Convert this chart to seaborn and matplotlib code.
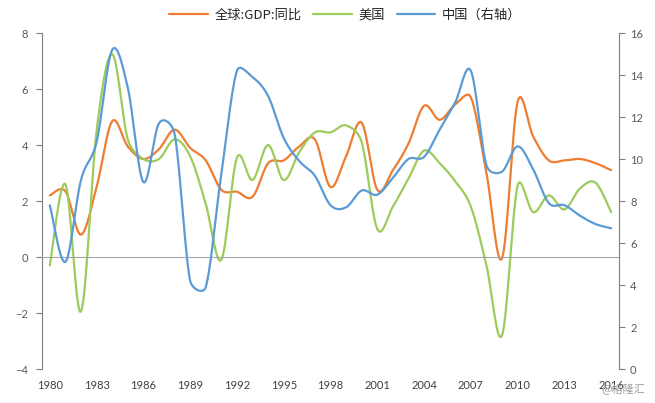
import numpy as np
import pandas as pd
import seaborn as sns
import matplotlib.pyplot as plt

years = list(range(1980, 2017))
world = [2.2, 2.35, 0.8, 2.5, 4.85, 3.95, 3.5, 3.85, 4.55, 3.9, 3.45, 2.4, 2.33, 2.15, 3.35, 3.45,
         3.95, 4.2, 2.5, 3.6, 4.8, 2.4, 3.1, 4.05, 5.4, 4.9, 5.45, 5.7, 3.0, -0.05, 5.55, 4.3,
         3.45, 3.45, 3.5, 3.35, 3.1]
us = [-0.3, 2.6, -1.95, 4.5, 7.25, 4.2, 3.5, 3.5, 4.2, 3.6, 1.9, -0.1, 3.55, 2.75, 4.0, 2.75,
      3.75, 4.45, 4.45, 4.7, 4.1, 1.0, 1.8, 2.8, 3.8, 3.35, 2.7, 1.8, -0.3, -2.8, 2.55, 1.6,
      2.2, 1.7, 2.45, 2.65, 1.6]
china = [7.8, 5.1, 9.0, 10.8, 15.2, 13.4, 8.9, 11.7, 11.2, 4.2, 3.9, 9.3, 14.2, 13.9, 13.0, 11.0,
         9.9, 9.2, 7.8, 7.7, 8.5, 8.3, 9.1, 10.0, 10.1, 11.4, 12.7, 14.2, 9.7, 9.4, 10.6, 9.5,
         7.9, 7.8, 7.3, 6.9, 6.7]
label_years = years[::3]
labels = ['全球:GDP:同比', '美国', '中国（右轴）']
colors = ['#ED7D31', '#9DCB5C', '#5B9BD5']


def smooth(x, y, sx, sy, n=16):
    # Excel-style smoothed line: Bezier segments, tangents limited in screen space
    p = np.column_stack([np.array(x, float) * sx, np.array(y, float) * sy])
    out = []
    for i in range(len(p) - 1):
        p0 = p[i - 1] if i > 0 else p[i]
        p1, p2 = p[i], p[i + 1]
        p3 = p[i + 2] if i + 2 < len(p) else p[i + 1]
        d12 = np.hypot(*(p2 - p1))
        d02 = np.hypot(*(p2 - p0))
        d13 = np.hypot(*(p3 - p1))
        f = g = 1 / 6
        if d02 / 6 >= d12 / 2 and d02 > 0:
            f = d12 / d02 / 2
        if d13 / 6 >= d12 / 2 and d13 > 0:
            g = d12 / d13 / 2
        c1 = p1 + f * (p2 - p0)
        c2 = p2 - g * (p3 - p1)
        t = np.linspace(0, 1, n, endpoint=(i == len(p) - 2))[:, None]
        out.append((1 - t) ** 3 * p1 + 3 * (1 - t) ** 2 * t * c1 + 3 * (1 - t) * t ** 2 * c2 + t ** 3 * p2)
    out = np.vstack(out)
    return pd.DataFrame({'year': out[:, 0] / sx, 'value': out[:, 1] / sy})


sns.set_style('white')
plt.rcParams['font.family'] = ['Lato', 'Noto Sans CJK SC', 'DejaVu Sans']

fig = plt.figure(figsize=(6.55, 4.03), dpi=100)
ax = fig.add_axes([42 / 655, 34 / 403, 577 / 655, 336 / 403])
ax2 = ax.twinx()

# pixel scales: 15.6 px per year, 28 px per left unit, 21 px per right unit
sns.lineplot(data=smooth(years, world, 15.6, 28), x='year', y='value', ax=ax, color=colors[0], lw=1.6, sort=False, legend=False)
sns.lineplot(data=smooth(years, us, 15.6, 28), x='year', y='value', ax=ax, color=colors[1], lw=1.6, sort=False, legend=False)
sns.lineplot(data=smooth(years, china, 15.6, 21), x='year', y='value', ax=ax2, color=colors[2], lw=1.6, sort=False, legend=False)

gray = '#7F7F7F'
ax.set_xlim(years[0] - 0.5, years[-1] + 0.5)
ax.set_ylim(-4, 8)
ax2.set_ylim(0, 16)
ax.set_yticks(range(-4, 9, 2))
ax2.set_yticks(range(0, 17, 2))

# horizontal axis drawn on the zero line, labels kept at the bottom
ax.spines['bottom'].set_position(('data', 0))
ax.spines['bottom'].set_color('#A6A6A6')
ax.set_xticks([y + 0.5 for y in label_years[:-1]])
ax.tick_params(axis='x', length=4, width=1, color='#A6A6A6', labelbottom=False, direction='out')
sec = ax.secondary_xaxis(0)
sec.set_xticks(label_years)
sec.set_xticklabels([str(y) for y in label_years])
sec.tick_params(length=0, labelsize=8, labelcolor='#404040', pad=8)
sec.spines['bottom'].set_visible(False)

for a in (ax, ax2):
    a.set_xlabel('')
    a.set_ylabel('')
    a.spines['top'].set_visible(False)
    a.grid(False)
ax2.spines['bottom'].set_visible(False)
ax.spines['right'].set_visible(False)
ax2.spines['left'].set_visible(False)
ax.spines['left'].set_color(gray)
ax2.spines['right'].set_color(gray)
ax.tick_params(axis='y', length=4, color=gray, labelsize=8, labelcolor='#595959', direction='out', left=True, pad=6)
ax2.tick_params(axis='y', length=4, color=gray, labelsize=8, labelcolor='#595959', direction='out', right=True, pad=4)

handles = ax.get_lines()[:2] + ax2.get_lines()[:1]
fig.legend(handles, labels, loc='center', bbox_to_anchor=(0.527, 0.962), ncol=3, frameon=False,
           prop={'family': ['Noto Sans CJK SC'], 'size': 9.5}, handlelength=2.9,
           handletextpad=0.5, columnspacing=0.9)

fig.text(0.985, 0.033, '@格隆汇', ha='right', va='center', fontsize=8, color='#9A9A9A',
         family=['Noto Sans CJK SC'])

fig.savefig('out.png', dpi=100)
